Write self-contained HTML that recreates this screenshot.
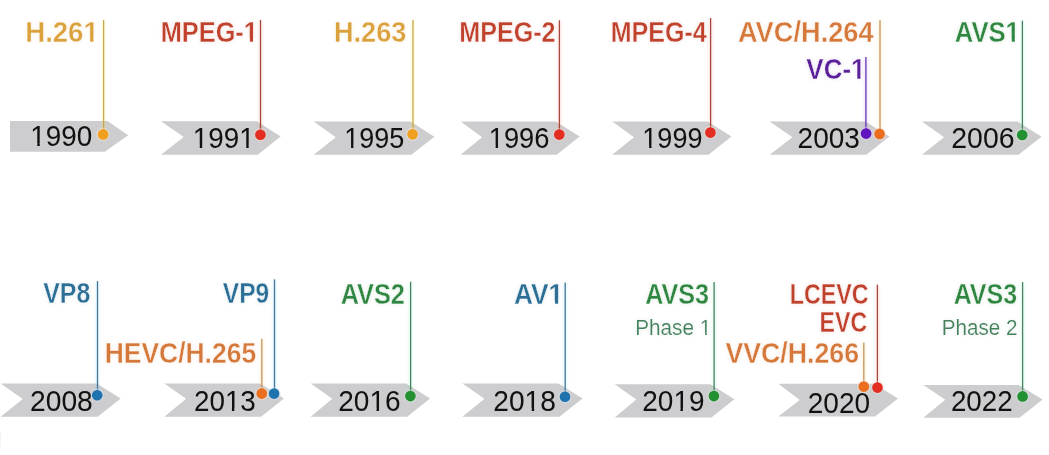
<!DOCTYPE html>
<html lang="en">
<head>
<meta charset="utf-8">
<title>Video coding standards timeline</title>
<style>
html,body{margin:0;padding:0;background:#fff;}
body{width:1049px;height:455px;overflow:hidden;}
svg{display:block;}
.s{filter:blur(0.45px);}
.h{filter:blur(1px);}
text{font-family:"Liberation Sans",Arial,Helvetica,sans-serif;}
.y{fill:#111111;stroke:#CDCDCF;stroke-width:0;}
.l{font-weight:700;stroke:#fff;stroke-width:0.35;}
.p{stroke:#fff;stroke-width:0.15;}
</style>
</head>
<body>
<svg width="1049" height="455" viewBox="0 0 1049 455">
<defs><filter id="lh" x="-2%" y="-2%" width="104%" height="104%" filterUnits="objectBoundingBox" color-interpolation-filters="sRGB"><feGaussianBlur in="SourceGraphic" stdDeviation="2" result="a"/><feComponentTransfer in="a" result="b"><feFuncA type="linear" slope="0.18"/></feComponentTransfer><feGaussianBlur in="SourceGraphic" stdDeviation="0.45" result="c"/><feMerge><feMergeNode in="b"/><feMergeNode in="c"/></feMerge></filter></defs>
<rect width="1049" height="455" fill="#fff"/>
<rect x="0" y="431" width="1" height="16" fill="#F3F3F3"/>
<g class="s" fill="#CDCDCF">
<polygon points="10,121.1 107.5,121.1 128.2,135.3 104.8,151.8 10,151.8"/>
<polygon points="161,121.3 256.7,121.3 280.7,136.5 257.7,154.8 161,154.8 183.7,137"/>
<polygon points="313.6,121.5 410.4,121.5 434.4,136.8 411.4,154.8 313.6,154.8 335.8,137.3"/>
<polygon points="460.7,121.5 555.7,121.5 579.7,136.6 556.7,154.8 460.7,154.8 482,137.3"/>
<polygon points="612.2,121.5 707.5,121.5 731.5,136.4 708.5,154.8 612.2,154.8 634,137.3"/>
<polygon points="769.7,121.5 865.4,121.5 889.4,136.6 866.4,154.8 769.7,154.8 792.4,137.3"/>
<polygon points="921.9,121.5 1017.5,121.5 1041.5,136.8 1018.5,154.8 921.9,154.8 944.1,137.3"/>
<polygon points="0.7,383.5 96.7,383.5 120.7,398.6 97.7,416.8 0.7,416.8 22.8,399"/>
<polygon points="164.3,383.5 260,383.5 284,398.6 261,416.8 164.3,416.8 186.1,398.8"/>
<polygon points="310.7,383.5 406.1,383.5 430.1,398.6 407.1,416.8 310.7,416.8 332.3,398.8"/>
<polygon points="462.4,383.5 558.5,383.5 582.5,398.6 559.5,416.8 462.4,416.8 484.5,398.8"/>
<polygon points="614.7,384.2 710.4,384.2 734.4,399.3 711.4,417.6 614.7,417.6 636.3,399.4"/>
<polygon points="778.3,383.8 874,383.8 898,398.6 875,416.5 778.3,416.5 799.8,400"/>
<polygon points="923.3,384.9 1018.6,384.9 1042.6,399.4 1019.6,417.7 923.3,417.7 945.3,399.8"/>
</g>
<g class="s">
<g transform="translate(30.29 146) scale(0.9614 1)"><text class="y" font-size="29">1990</text><g fill="#CDCDCF"><rect x="1.17" y="-3.00" width="6.12" height="4.20"/><rect x="9.86" y="-3.00" width="5.90" height="4.20"/></g></g>
<g transform="translate(192.76 148) scale(0.9607 1)"><text class="y" font-size="29">1991</text><g fill="#CDCDCF"><rect x="1.17" y="-3.00" width="6.12" height="4.20"/><rect x="9.86" y="-3.00" width="5.90" height="4.20"/><rect x="49.54" y="-3.00" width="6.12" height="4.20"/><rect x="58.23" y="-3.00" width="5.90" height="4.20"/></g></g>
<g transform="translate(344.28 148) scale(0.9309 1)"><text class="y" font-size="29">1995</text><g fill="#CDCDCF"><rect x="1.13" y="-3.00" width="6.16" height="4.20"/><rect x="9.86" y="-3.00" width="5.93" height="4.20"/></g></g>
<g transform="translate(488.74 148) scale(0.9426 1)"><text class="y" font-size="29">1996</text><g fill="#CDCDCF"><rect x="1.15" y="-3.00" width="6.14" height="4.20"/><rect x="9.86" y="-3.00" width="5.92" height="4.20"/></g></g>
<g transform="translate(642.32 148) scale(0.9326 1)"><text class="y" font-size="29">1999</text><g fill="#CDCDCF"><rect x="1.14" y="-3.00" width="6.16" height="4.20"/><rect x="9.86" y="-3.00" width="5.93" height="4.20"/></g></g>
<g transform="translate(797.57 148) scale(0.9670 1)"><text class="y" font-size="29">2003</text></g>
<g transform="translate(951.25 148) scale(0.9815 1)"><text class="y" font-size="29">2006</text></g>
<g transform="translate(29.98 411) scale(0.9744 1)"><text class="y" font-size="29">2008</text></g>
<g transform="translate(193.90 411) scale(0.9609 1)"><text class="y" font-size="29">2013</text><g fill="#CDCDCF"><rect x="33.42" y="-3.00" width="6.12" height="4.20"/><rect x="42.11" y="-3.00" width="5.90" height="4.20"/></g></g>
<g transform="translate(338.26 411) scale(0.9674 1)"><text class="y" font-size="29">2016</text><g fill="#CDCDCF"><rect x="33.43" y="-3.00" width="6.12" height="4.20"/><rect x="42.11" y="-3.00" width="5.89" height="4.20"/></g></g>
<g transform="translate(493.29 411) scale(0.9714 1)"><text class="y" font-size="29">2018</text><g fill="#CDCDCF"><rect x="33.43" y="-3.00" width="6.11" height="4.20"/><rect x="42.11" y="-3.00" width="5.89" height="4.20"/></g></g>
<g transform="translate(642.23 411) scale(0.9660 1)"><text class="y" font-size="29">2019</text><g fill="#CDCDCF"><rect x="33.42" y="-3.00" width="6.12" height="4.20"/><rect x="42.11" y="-3.00" width="5.89" height="4.20"/></g></g>
<g transform="translate(807.71 413) scale(0.9674 1)"><text class="y" font-size="29">2020</text></g>
<g transform="translate(950.91 411) scale(0.9581 1)"><text class="y" font-size="29">2022</text></g>
</g>
<g filter="url(#lh)">
<g transform="translate(25.26 42) scale(0.9502 1)"><text class="l" font-size="29" fill="#DBA13C">H.261</text><g fill="#FFFFFF"><rect x="62.02" y="-3.00" width="6.18" height="4.20"/><rect x="71.81" y="-3.00" width="5.81" height="4.20"/></g></g>
<g transform="translate(160.74 42) scale(0.8742 1)"><text class="l" font-size="29" fill="#C0422D">MPEG-1</text><g fill="#FFFFFF"><rect x="95.73" y="-3.00" width="6.29" height="4.20"/><rect x="105.59" y="-3.00" width="5.92" height="4.20"/></g></g>
<g transform="translate(333.94 42) scale(0.9370 1)"><text class="l" font-size="29" fill="#DBA13C">H.263</text></g>
<g transform="translate(459.25 42) scale(0.8658 1)"><text class="l" font-size="29" fill="#C0422D">MPEG-2</text></g>
<g transform="translate(610.69 42) scale(0.8636 1)"><text class="l" font-size="29" fill="#C0422D">MPEG-4</text></g>
<g transform="translate(737.93 42) scale(0.9392 1)"><text class="l" font-size="29" fill="#D5783A">AVC/H.264</text></g>
<g transform="translate(806.35 79) scale(0.8951 1)"><text class="l" font-size="29" fill="#5A1F9A">VC-1</text><g fill="#FFFFFF"><rect x="50.65" y="-3.00" width="6.25" height="4.20"/><rect x="60.49" y="-3.00" width="5.89" height="4.20"/></g></g>
<g transform="translate(954.79 42) scale(0.8835 1)"><text class="l" font-size="29" fill="#2F8640">AVS1</text><g fill="#FFFFFF"><rect x="58.16" y="-3.00" width="6.27" height="4.20"/><rect x="68.02" y="-3.00" width="5.90" height="4.20"/></g></g>
<g transform="translate(43.25 303) scale(0.8578 1)"><text class="l" font-size="29" fill="#2C6F96">VP8</text></g>
<g transform="translate(222.86 303) scale(0.8464 1)"><text class="l" font-size="29" fill="#2C6F96">VP9</text></g>
<g transform="translate(104.68 363) scale(0.9122 1)"><text class="l" font-size="29" fill="#D5783A">HEVC/H.265</text></g>
<g transform="translate(340.65 304) scale(0.8737 1)"><text class="l" font-size="29" fill="#2F8640">AVS2</text></g>
<g transform="translate(514.04 304) scale(0.9072 1)"><text class="l" font-size="29" fill="#2C6F96">AV1</text><g fill="#FFFFFF"><rect x="38.85" y="-3.00" width="6.24" height="4.20"/><rect x="48.68" y="-3.00" width="5.87" height="4.20"/></g></g>
<g transform="translate(645.24 304) scale(0.8679 1)"><text class="l" font-size="29" fill="#2F8640">AVS3</text></g>
<g transform="translate(635.23 335) scale(0.9220 1)"><text class="p" font-size="22.5" fill="#44805C">Phase 1</text><g fill="#FFFFFF"><rect x="70.68" y="-2.00" width="5.11" height="3.20"/><rect x="77.61" y="-2.00" width="4.93" height="3.20"/></g></g>
<g transform="translate(789.68 304) scale(0.8036 1)"><text class="l" font-size="29" fill="#C0422D">LCEVC</text></g>
<g transform="translate(819.55 332) scale(0.7980 1)"><text class="l" font-size="29" fill="#C0422D">EVC</text></g>
<g transform="translate(725.46 363) scale(0.9211 1)"><text class="l" font-size="29" fill="#D5783A">VVC/H.266</text></g>
<g transform="translate(953.63 304) scale(0.8629 1)"><text class="l" font-size="29" fill="#2F8640">AVS3</text></g>
<g transform="translate(941.80 335) scale(0.9181 1)"><text class="p" font-size="22.5" fill="#44805C">Phase 2</text></g>
</g>
<g class="h" stroke-width="4.5" stroke-opacity="0.13">
<line x1="103.6" y1="21" x2="103.6" y2="129.4" stroke="#FFF000"/>
<line x1="260.5" y1="21" x2="260.5" y2="129.7" stroke="#FF6A50"/>
<line x1="412.96" y1="21" x2="412.96" y2="129.3" stroke="#FFF000"/>
<line x1="559.4" y1="21.3" x2="559.4" y2="129.6" stroke="#FF6A50"/>
<line x1="710.6" y1="18.9" x2="710.6" y2="127.6" stroke="#FF6A50"/>
<line x1="880" y1="21" x2="880" y2="128.9" stroke="#FFB000"/>
<line x1="865.9" y1="58.1" x2="865.9" y2="128.6" stroke="#B060FF"/>
<line x1="1022.4" y1="21.7" x2="1022.4" y2="130" stroke="#50F0A0"/>
<line x1="97.5" y1="282.1" x2="97.5" y2="390.3" stroke="#50D0FF"/>
<line x1="274.5" y1="280.3" x2="274.5" y2="388.6" stroke="#50D0FF"/>
<line x1="261.8" y1="339.8" x2="261.8" y2="388.6" stroke="#FFB000"/>
<line x1="410.6" y1="282.7" x2="410.6" y2="391.1" stroke="#50F0A0"/>
<line x1="565.2" y1="283.6" x2="565.2" y2="391.7" stroke="#50D0FF"/>
<line x1="714.1" y1="283.1" x2="714.1" y2="391.1" stroke="#50F0A0"/>
<line x1="877.4" y1="285.6" x2="877.4" y2="382.6" stroke="#FF6A50"/>
<line x1="863.8" y1="343.6" x2="863.8" y2="381.6" stroke="#FFB000"/>
<line x1="1022.6" y1="283.1" x2="1022.6" y2="391.4" stroke="#50F0A0"/>
</g>
<g stroke-width="1.3">
<line x1="103.6" y1="20" x2="103.6" y2="134.4" stroke="#C8A550"/>
<line x1="260.5" y1="20" x2="260.5" y2="134.7" stroke="#A5483F"/>
<line x1="412.96" y1="20" x2="412.96" y2="134.3" stroke="#C8A550"/>
<line x1="559.4" y1="20.3" x2="559.4" y2="134.6" stroke="#A5483F"/>
<line x1="710.6" y1="17.9" x2="710.6" y2="132.6" stroke="#A5483F"/>
<line x1="880" y1="20" x2="880" y2="133.9" stroke="#C49668"/>
<line x1="865.9" y1="57.1" x2="865.9" y2="133.6" stroke="#6438AE"/>
<line x1="1022.4" y1="20.7" x2="1022.4" y2="135" stroke="#4A8260"/>
<line x1="97.5" y1="281.1" x2="97.5" y2="395.3" stroke="#45759A"/>
<line x1="274.5" y1="279.3" x2="274.5" y2="393.6" stroke="#45759A"/>
<line x1="261.8" y1="338.8" x2="261.8" y2="393.6" stroke="#C49668"/>
<line x1="410.6" y1="281.7" x2="410.6" y2="396.1" stroke="#4A8260"/>
<line x1="565.2" y1="282.6" x2="565.2" y2="396.7" stroke="#45759A"/>
<line x1="714.1" y1="282.1" x2="714.1" y2="396.1" stroke="#4A8260"/>
<line x1="877.4" y1="284.6" x2="877.4" y2="387.6" stroke="#A5483F"/>
<line x1="863.8" y1="342.6" x2="863.8" y2="386.6" stroke="#C49668"/>
<line x1="1022.6" y1="282.1" x2="1022.6" y2="396.4" stroke="#4A8260"/>
</g>
<g class="s">
<circle cx="103.1" cy="134.4" r="6" fill="none" stroke="#FCECD2" stroke-opacity="0.45" stroke-width="1.4"/>
<circle cx="103.1" cy="134.4" r="5.3" fill="#F0A01E"/>
<circle cx="260.4" cy="134.7" r="6" fill="none" stroke="#F9D5D2" stroke-opacity="0.45" stroke-width="1.4"/>
<circle cx="260.4" cy="134.7" r="5.3" fill="#E22D20"/>
<circle cx="412.6" cy="134.3" r="6" fill="none" stroke="#FCECD2" stroke-opacity="0.45" stroke-width="1.4"/>
<circle cx="412.6" cy="134.3" r="5.3" fill="#F0A01E"/>
<circle cx="559.3" cy="134.6" r="6" fill="none" stroke="#F9D5D2" stroke-opacity="0.45" stroke-width="1.4"/>
<circle cx="559.3" cy="134.6" r="5.3" fill="#E22D20"/>
<circle cx="710.4" cy="132.6" r="6" fill="none" stroke="#F9D5D2" stroke-opacity="0.45" stroke-width="1.4"/>
<circle cx="710.4" cy="132.6" r="5.3" fill="#E22D20"/>
<circle cx="879.6" cy="133.9" r="6" fill="none" stroke="#FBE2D2" stroke-opacity="0.45" stroke-width="1.4"/>
<circle cx="879.6" cy="133.9" r="5.3" fill="#EB6E1E"/>
<circle cx="866.1" cy="133.6" r="6" fill="none" stroke="#DFD0F2" stroke-opacity="0.45" stroke-width="1.4"/>
<circle cx="866.1" cy="133.6" r="5.3" fill="#5F14BE"/>
<circle cx="1022.2" cy="135" r="6" fill="none" stroke="#D3E9D6" stroke-opacity="0.45" stroke-width="1.4"/>
<circle cx="1022.2" cy="135" r="5.3" fill="#239132"/>
<circle cx="97.2" cy="395.3" r="6" fill="none" stroke="#D2E3EF" stroke-opacity="0.45" stroke-width="1.4"/>
<circle cx="97.2" cy="395.3" r="5.3" fill="#1E73AF"/>
<circle cx="274.1" cy="393.6" r="6" fill="none" stroke="#D2E3EF" stroke-opacity="0.45" stroke-width="1.4"/>
<circle cx="274.1" cy="393.6" r="5.3" fill="#1E73AF"/>
<circle cx="261.8" cy="393.6" r="6" fill="none" stroke="#FBE2D2" stroke-opacity="0.45" stroke-width="1.4"/>
<circle cx="261.8" cy="393.6" r="5.3" fill="#EB6E1E"/>
<circle cx="410.4" cy="396.1" r="6" fill="none" stroke="#D3E9D6" stroke-opacity="0.45" stroke-width="1.4"/>
<circle cx="410.4" cy="396.1" r="5.3" fill="#239132"/>
<circle cx="565" cy="396.7" r="6" fill="none" stroke="#D2E3EF" stroke-opacity="0.45" stroke-width="1.4"/>
<circle cx="565" cy="396.7" r="5.3" fill="#1E73AF"/>
<circle cx="713.9" cy="396.1" r="6" fill="none" stroke="#D3E9D6" stroke-opacity="0.45" stroke-width="1.4"/>
<circle cx="713.9" cy="396.1" r="5.3" fill="#239132"/>
<circle cx="877.5" cy="387.6" r="6" fill="none" stroke="#F9D5D2" stroke-opacity="0.45" stroke-width="1.4"/>
<circle cx="877.5" cy="387.6" r="5.3" fill="#E22D20"/>
<circle cx="863.8" cy="386.6" r="6" fill="none" stroke="#FBE2D2" stroke-opacity="0.45" stroke-width="1.4"/>
<circle cx="863.8" cy="386.6" r="5.3" fill="#EB6E1E"/>
<circle cx="1022.6" cy="396.4" r="6" fill="none" stroke="#D3E9D6" stroke-opacity="0.45" stroke-width="1.4"/>
<circle cx="1022.6" cy="396.4" r="5.3" fill="#239132"/>
</g>
</svg>
</body>
</html>
